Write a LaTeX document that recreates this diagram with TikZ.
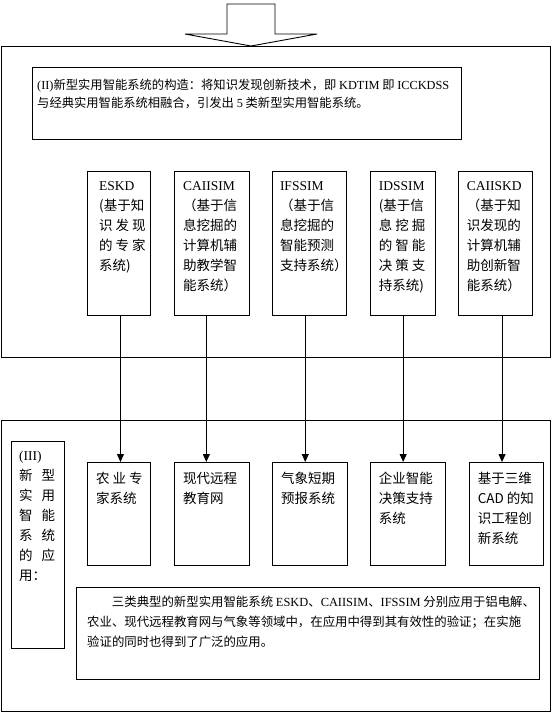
\documentclass[tikz,border=0pt]{standalone}
\usepackage{fontspec}
\setmainfont{Noto Sans CJK SC}
\newfontfamily\latinfont{Liberation Serif}
\newcommand{\latn}[1]{{\latinfont #1}}
\usetikzlibrary{
arrows.meta,
positioning
}

\begin{document}
\begin{tikzpicture}[
x=1pt,y=-1pt,
frame/.style={
draw,
line width=0.9pt,
anchor=north west,
inner sep=0pt
},
sysbox/.style={frame,minimum height=144pt},
appbox/.style={frame,minimum height=103pt},
txt/.style={
anchor=north west,
inner sep=0pt,
align=left,
font=\fontsize{13.5}{20}\selectfont
},
para/.style={txt,font=\fontsize{12.3}{17.5}\selectfont},
arrow/.style={-{Triangle[width=7pt,length=8pt]},line width=0.9pt}
]

\useasboundingbox (0,0) rectangle (552,713);

% block arrow at the top
\draw[line width=0.9pt] (227,4) -- (275,4) -- (275,34) -- (317,34) -- (251,46)
  -- (185,34) -- (227,34) -- cycle;

% upper part
\node[frame,minimum width=549pt,minimum height=311pt] (upper) at (1,46) {};
\node[frame,minimum width=429pt,minimum height=72pt] (intro) at (32,67) {};
\node[para,below right=12pt and 5pt of intro.north west] (introtxt)
  {\latn{(II)}新型实用智能系统的构造：将知识发现创新技术，即 \latn{KDTIM} 即 \latn{ICCKDSS}\\
   与经典实用智能系统相融合，引发出 \latn{5} 类新型实用智能系统。};

\node[sysbox,minimum width=63pt] (s1) at (87,171) {};
\node[sysbox,minimum width=75pt,below right=0pt and 23pt of s1.north east] (s2) {};
\node[sysbox,minimum width=74pt,below right=0pt and 22pt of s2.north east] (s3) {};
\node[sysbox,minimum width=65pt,below right=0pt and 23pt of s3.north east] (s4) {};
\node[sysbox,minimum width=74pt,below right=0pt and 22pt of s4.north east] (s5) {};

\node[txt,below right=10pt and 12pt of s1.north west] (s1txt)
  {\latn{ESKD}\\(基于知\\识 发 现\\的 专 家\\系统)};
\node[txt,below right=10pt and 9pt of s2.north west] (s2txt)
  {\latn{CAIISIM}\\（基于信\\息挖掘的\\计算机辅\\助教学智\\能系统）};
\node[txt,below right=10pt and 8pt of s3.north west] (s3txt)
  {\latn{IFSSIM}\\（基于信\\息挖掘的\\智能预测\\支持系统）};
\node[txt,below right=10pt and 9pt of s4.north west] (s4txt)
  {\latn{IDSSIM}\\(基于信\\息 挖 掘\\的 智 能\\决 策 支\\持系统)};
\node[txt,below right=10pt and 9pt of s5.north west] (s5txt)
  {\latn{CAIISKD}\\（基于知\\识发现的\\计算机辅\\助创新智\\能系统）};

% lower part
\node[frame,minimum width=549pt,minimum height=291pt] (lower) at (1,420) {};
\node[frame,minimum width=53pt,minimum height=207pt] (apptitle) at (11,441) {};
\node[txt,below right=10pt and 8pt of apptitle.north west] (apptitletxt)
  {\latn{(III)}\\新\hspace{9pt}型\\实\hspace{9pt}用\\智\hspace{9pt}能\\系\hspace{9pt}统\\的\hspace{9pt}应\\用：};

\node[appbox,minimum width=63pt] (a1) at (87,462) {};
\node[appbox,minimum width=75pt,below right=0pt and 23pt of a1.north east] (a2) {};
\node[appbox,minimum width=75pt,below right=0pt and 22pt of a2.north east] (a3) {};
\node[appbox,minimum width=75pt,below right=0pt and 22pt of a3.north east] (a4) {};
\node[appbox,minimum width=74pt,below right=0pt and 23pt of a4.north east] (a5) {};

\node[txt,below right=10pt and 9pt of a1.north west] (a1txt) {农 业 专\\家系统};
\node[txt,below right=10pt and 9pt of a2.north west] (a2txt) {现代远程\\教育网};
\node[txt,below right=10pt and 9pt of a3.north west] (a3txt) {气象短期\\预报系统};
\node[txt,below right=10pt and 9pt of a4.north west] (a4txt) {企业智能\\决策支持\\系统};
\node[txt,below right=10pt and 9pt of a5.north west] (a5txt)
  {基于三维\\CAD 的知\\识工程创\\新系统};

\node[frame,minimum width=463pt,minimum height=92pt] (summary) at (76,587) {};
\node[para,below right=9pt and 11pt of summary.north west,
  font=\fontsize{12.4}{20}\selectfont] (summarytxt)
  {\hspace*{2em}三类典型的新型实用智能系统 \latn{ESKD}、\latn{CAIISIM}、\latn{IFSSIM} 分别应用于铝电解、\\
   农业、现代远程教育网与气象等领域中，在应用中得到其有效性的验证；在实施\\
   验证的同时也得到了广泛的应用。};

% connectors
\draw[arrow] ([xshift=1.5pt]s1.south) -- ([xshift=1.5pt]s1.south |- a1.north);
\draw[arrow] ([xshift=-5.5pt]s2.south) -- ([xshift=-5.5pt]s2.south |- a2.north);
\draw[arrow] ([xshift=-4pt]s3.south) -- ([xshift=-4pt]s3.south |- a3.north);
\draw[arrow] ([xshift=0.5pt]s4.south) -- ([xshift=0.5pt]s4.south |- a4.north);
\draw[arrow] ([xshift=7pt]s5.south) -- ([xshift=7pt]s5.south |- a5.north);

\end{tikzpicture}
\end{document}
